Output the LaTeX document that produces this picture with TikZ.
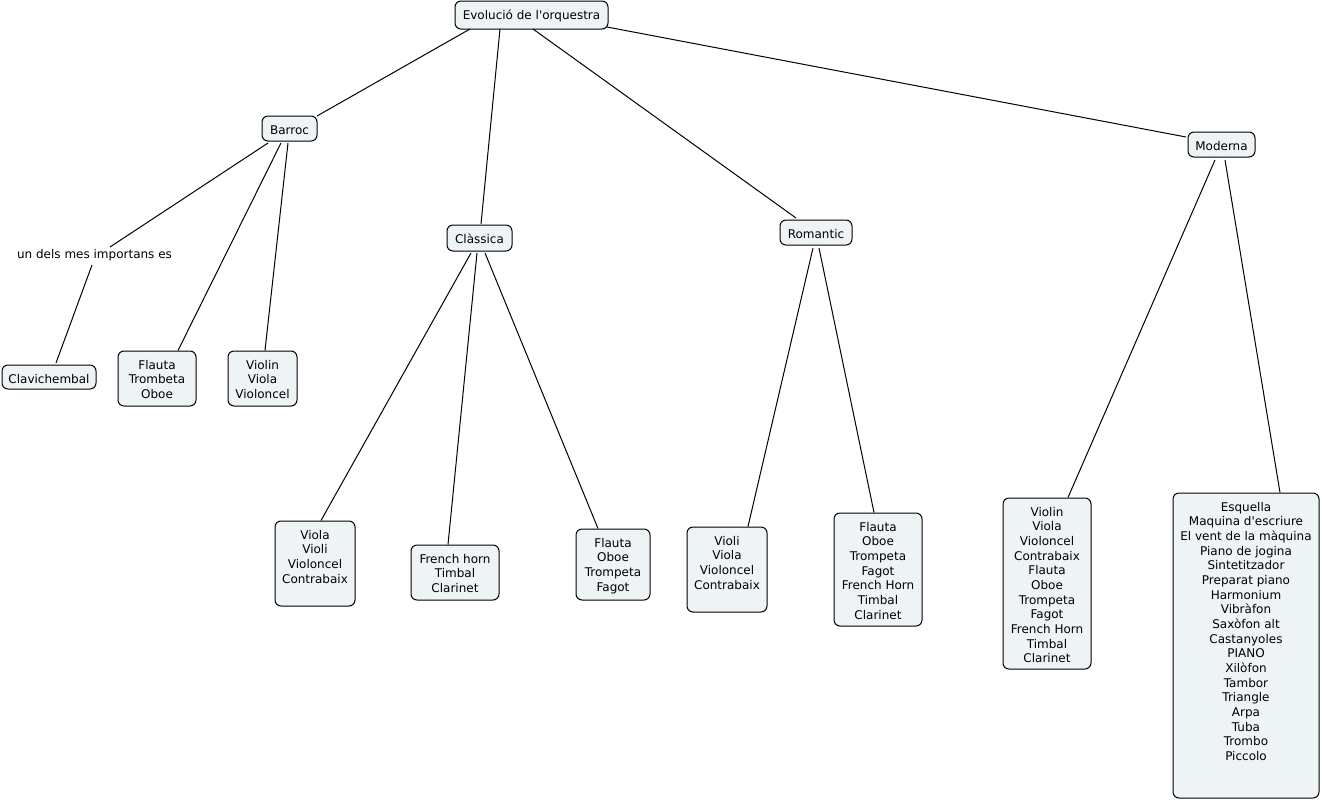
\documentclass[tikz,border=0pt]{standalone}
\usepackage{fontspec}
\setmainfont{DejaVu Sans}
\usetikzlibrary{calc}
\definecolor{boxfill}{RGB}{238,243,245}
\newdimen\pxu \pxu=0.75pt
\newcommand{\bx}[3]{\parbox[c][#2\pxu][t]{#1\pxu}{\centering\rule{0pt}{13.5pt}#3\par}}
\tikzset{
  cbox/.style={draw=black, fill=boxfill, rounded corners=4.5pt, inner sep=0pt, line width=0.75pt},
  conn/.style={draw=black, line width=0.75pt},
}
\begin{document}
\begin{tikzpicture}[x=0.75pt,y=-0.75pt,font=\fontsize{9}{11}\selectfont]
\useasboundingbox (0,0) rectangle (1322,800);
% nodes
\node[cbox] (evo) at (531.5,15) {\bx{153}{28}{Evolució de l\textquotesingle orquestra}};
\node[cbox] (barroc) at (289.5,128.5) {\bx{55}{25}{Barroc}};
\node[cbox] (classica) at (479.5,238) {\bx{65}{26}{Clàssica}};
\node[cbox] (romantic) at (816,232.5) {\bx{72}{25}{Romantic}};
\node[cbox] (moderna) at (1221.5,144.5) {\bx{67}{25}{Moderna}};
\node[inner sep=0pt] (undels) at (94.5,255) {un dels mes importans es};
\node[cbox] (clav) at (49,377) {\bx{94}{24}{Clavichembal}};
\node[cbox] (bflauta) at (157,378.5) {\bx{78}{55}{Flauta\\Trombeta\\Oboe}};
\node[cbox] (bviolin) at (262.5,378.5) {\bx{69}{55}{Violin\\Viola\\Violoncel}};
\node[cbox] (cviola) at (315,563.5) {\bx{80}{85}{Viola\\Violi\\Violoncel\\Contrabaix}};
\node[cbox] (cfrench) at (455,572.5) {\bx{88}{55}{French horn\\Timbal\\Clarinet}};
\node[cbox] (cflauta) at (613,564.5) {\bx{74}{71}{Flauta\\Oboe\\Trompeta\\Fagot}};
\node[cbox] (rvioli) at (727,569.5) {\bx{80}{85}{Violi\\Viola\\Violoncel\\Contrabaix}};
\node[cbox] (rflauta) at (878,569.5) {\bx{88}{113}{Flauta\\Oboe\\Trompeta\\Fagot\\French Horn\\Timbal\\Clarinet}};
\node[cbox] (mleft) at (1047,583.5) {\bx{88}{171}{Violin\\Viola\\Violoncel\\Contrabaix\\Flauta\\Oboe\\Trompeta\\Fagot\\French Horn\\Timbal\\Clarinet}};
\node[cbox] (mright) at (1246,645.5) {\bx{146}{305}{Esquella\\Maquina d\textquotesingle escriure\\El vent de la màquina\\Piano de jogina\\Sintetitzador\\Preparat piano\\Harmonium\\Vibràfon\\Saxòfon alt\\Castanyoles\\PIANO\\Xilòfon\\Tambor\\Triangle\\Arpa\\Tuba\\Trombo\\Piccolo}};
% connectors
\draw[conn] ($(evo.center)+(-61.5,14)$) -- ($(barroc.center)+(27.5,-12.5)$);
\draw[conn] ($(evo.center)+(-31.5,14)$) -- ($(classica.center)+(1.5,-14)$);
\draw[conn] ($(evo.center)+(1.5,14)$) -- ($(romantic.center)+(-20,-14.5)$);
\draw[conn] ($(evo.center)+(75.5,12)$) -- ($(moderna.center)+(-35.5,-7.5)$);
\draw[conn] ($(barroc.center)+(-21.5,14.5)$) -- ($(undels.center)+(15.5,-8)$);
\draw[conn] ($(undels.center)+(-2.5,10)$) -- ($(clav.center)+(7,-14)$);
\draw[conn] ($(barroc.center)+(-8.5,14.5)$) -- ($(bflauta.center)+(21,-28)$);
\draw[conn] ($(barroc.center)+(-1.5,14.5)$) -- ($(bviolin.center)+(2.5,-28)$);
\draw[conn] ($(classica.center)+(-8.5,15)$) -- ($(cviola.center)+(6,-43)$);
\draw[conn] ($(classica.center)+(-2.5,15)$) -- ($(cfrench.center)+(-7,-28)$);
\draw[conn] ($(classica.center)+(5.5,15)$) -- ($(cflauta.center)+(-15,-36)$);
\draw[conn] ($(romantic.center)+(-3,15.5)$) -- ($(rvioli.center)+(21,-43)$);
\draw[conn] ($(romantic.center)+(3,15.5)$) -- ($(rflauta.center)+(-4,-57)$);
\draw[conn] ($(moderna.center)+(-6.5,15.5)$) -- ($(mleft.center)+(21,-86)$);
\draw[conn] ($(moderna.center)+(3.5,15.5)$) -- ($(mright.center)+(34,-153)$);
\end{tikzpicture}
\end{document}
